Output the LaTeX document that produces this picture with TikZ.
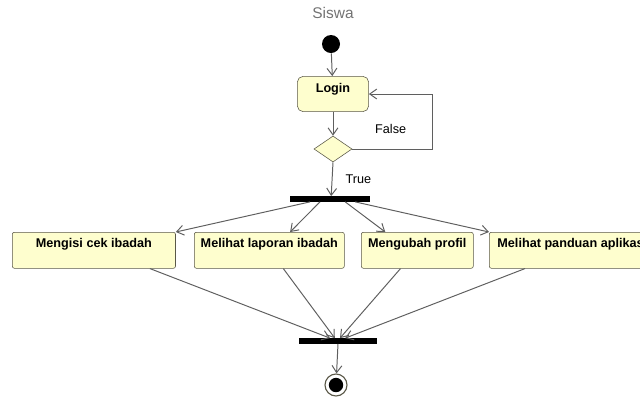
\documentclass[tikz,border=0pt]{standalone}
\usepackage{fontspec}
\setmainfont{Liberation Sans}
\usetikzlibrary{arrows.meta, shapes.geometric, positioning}

\definecolor{actfill}{RGB}{254,254,206}
\definecolor{actline}{RGB}{90,88,72}
\definecolor{flowline}{RGB}{95,95,95}

\begin{document}
\begin{tikzpicture}[x=0.025cm, y=-0.025cm,
    act/.style={draw=actline, fill=actfill, rounded corners=1.5pt, anchor=north west,
      font=\fontsize{9}{10}\selectfont\bfseries, minimum height=0.9cm,
      text depth=11pt, inner sep=2pt},
    bar/.style={fill=black, inner sep=0pt, minimum height=0.13cm},
    flow/.style={draw=flowline, line width=0.7pt, -{Straight Barb[length=5pt,width=7pt]}},
    lab/.style={font=\fontsize{9}{10}\selectfont}
  ]
    \clip (0,0) rectangle (640,396);
    \node[font=\fontsize{11}{12}\selectfont, text=black!55] (title) at (333,13) {Siswa};
    \node[circle, fill=black, inner sep=0pt, minimum size=0.45cm] (start) at (331,44) {};
    \node[draw=actline, fill=actfill, rounded corners=4pt, minimum width=1.78cm,
      minimum height=0.88cm, text depth=8pt,
      font=\fontsize{9}{10}\selectfont\bfseries] (login) at (333,94) {Login};
    \node[diamond, draw=actline, fill=actfill, inner sep=0pt, minimum width=0.95cm,
      minimum height=0.65cm] (dec) at (333,149) {};
    \node[bar, minimum width=2cm] (fork) at (330,199) {};
    % actions
    \node[act, minimum width=4.08cm] (b1) at (12,232) {Mengisi cek ibadah};
    \node[act, minimum width=3.75cm] (b2) at (194,232) {Melihat laporan ibadah};
    \node[act, minimum width=2.8cm] (b3) at (361,232) {Mengubah profil};
    \node[act, minimum width=4.15cm] (b4) at (489,232) {Melihat panduan aplikasi};
    \node[bar, minimum width=1.93cm] (join) at (338,341) {};
    \node[circle, draw=actline, fill=white, line width=0.8pt, inner sep=0pt,
      minimum size=0.55cm,
      path picture={\fill[black] (path picture bounding box.center) circle (0.18cm);}]
      (end) at (336,385) {};

    \draw[flow] (start) -- (login);
    \draw[flow] (login) -- (dec);
    \draw[flow] (dec.east) -- node[lab, pos=0.48, above=7pt] {False} ++(80,0) |- (login.east);
    \draw[flow] (dec.south) -- node[lab, right=6pt] {True} ([xshift=0.03cm]fork.north);
    \draw[flow] ([xshift=-0.5cm]fork.south) -- (b1.north east);
    \draw[flow] ([xshift=-0.25cm]fork.south) -- ([xshift=0.52cm]b2.north);
    \draw[flow] ([xshift=0.38cm]fork.south) -- ([xshift=-0.8cm]b3.north);
    \draw[flow] ([xshift=0.63cm]fork.south) -- (b4.north west);
    \draw[flow] ([xshift=1.4cm]b1.south) -- ([xshift=-0.2cm]join.north);
    \draw[flow] ([xshift=0.35cm]b2.south) -- ([xshift=-0.08cm]join.north);
    \draw[flow] ([xshift=-0.42cm]b3.south) -- ([xshift=0.05cm]join.north);
    \draw[flow] ([xshift=0.9cm]b4.south west) -- ([xshift=0.18cm]join.north);
    \draw[flow] (join.south) -- (end);
  \end{tikzpicture}
\end{document}
